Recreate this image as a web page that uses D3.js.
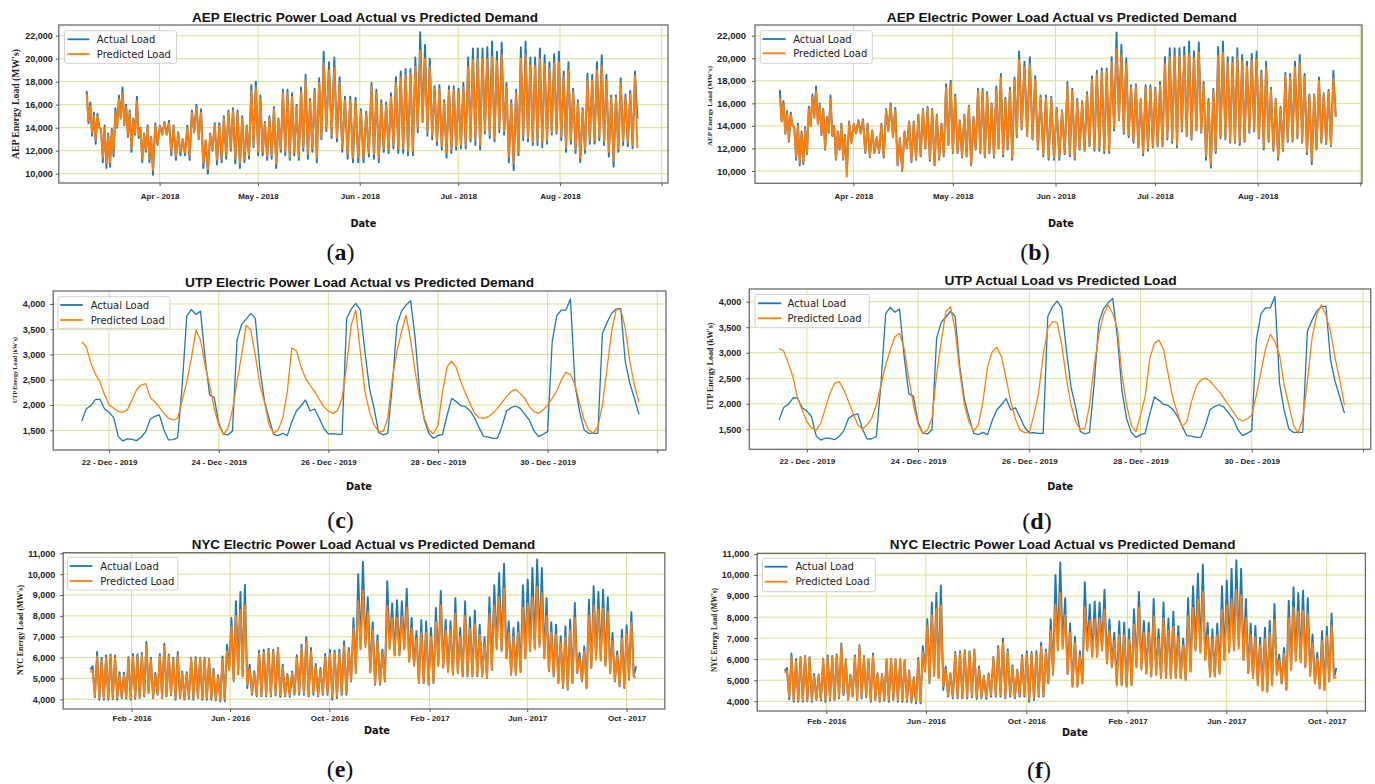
<html>
<head>
<meta charset="utf-8">
<script src="https://d3js.org/d3.v7.min.js"></script>
<style>
    body { margin: 0; background: #fff; }
    svg { display: block; }
    .grid line { stroke: #dcdd8c; stroke-width: 1px; }
    .frame { fill: none; stroke: #6b6b6b; stroke-width: 1.3px; }
    .series { fill: none; stroke-linejoin: round; }
    .axis path.domain { display: none; }
    .axis line { stroke: #555; }
    .axis text { font-family: "Liberation Sans", Arial, sans-serif; font-weight: bold; fill: #222; }
    .title { font-family: "Liberation Sans", Arial, sans-serif; font-weight: bold; font-size: 13.5px; fill: #111; }
    .xlab { font-family: "DejaVu Sans", sans-serif; font-weight: bold; font-size: 10.5px; fill: #111; }
    .ylab { font-family: "Liberation Serif", "Times New Roman", serif; font-weight: bold; fill: #222; }
    .sub { font-family: "Liberation Serif", "Times New Roman", serif; font-size: 24px; fill: #111; }
    .legend rect { fill: #fff; fill-opacity: 0.85; stroke: #d0d0d0; stroke-width: 1px; }
    .legend text { font-family: "DejaVu Sans", sans-serif; font-size: 10px; fill: #222; }
</style>
</head>
<body>
<svg width="1375" height="784"></svg>

<script>

    // ---------------- AEP (MW, thousands) : alternating peak / trough as read ----------------
    const aepActual = [
        17.2,14.4, 16.2,13.3, 15.3,12.6, 15.2,14.0, 13.9,11.0, 14.2,10.5, 13.5,10.6, 13.9,11.5, 15.7,14.0, 16.8,14.8,
        17.5,14.2, 16.0,13.2, 15.5,11.9, 14.8,13.4, 16.7,13.1, 14.0,11.0, 13.5,11.9, 14.2,11.0, 13.2,9.9, 14.4,12.5,
        14.2,13.4, 14.5,13.4, 14.6,11.6, 14.2,11.2, 13.6,11.6, 13.0,11.6, 14.2,11.2, 15.5,13.6, 16.0,13.0, 15.6,10.5,
        12.9,10.0, 13.5,12.0, 14.4,10.8, 14.4,11.0, 15.0,11.3, 15.5,12.0, 15.7,10.9, 15.5,10.5, 15.0,11.0, 14.2,11.3,
        17.7,12.3, 18.0,11.6, 16.8,11.6, 14.5,11.2, 15.0,11.3, 15.8,10.5, 14.8,11.9, 17.3,11.6, 17.3,11.2, 17.0,11.6,
        16.0,11.2, 17.5,12.0, 18.6,11.3, 16.5,11.9, 17.4,11.0, 18.3,13.0, 20.6,13.7, 19.7,13.1, 20.1,12.8, 18.4,11.9,
        16.7,11.3, 16.7,11.0, 16.6,11.0, 15.6,11.0, 15.4,11.5, 17.9,11.3, 17.3,11.0, 16.4,11.9, 16.2,11.8, 17.0,12.2,
        18.4,11.8, 18.9,11.8, 19.1,11.6, 19.1,11.6, 20.1,13.6, 22.3,14.5, 21.2,13.3, 20.0,13.0, 17.6,12.5, 17.7,12.1,
        16.4,11.4, 17.6,11.8, 17.6,12.1, 17.4,12.2, 17.9,12.2, 20.1,12.8, 20.9,12.5, 20.9,12.1, 20.9,13.5, 21.0,13.1,
        21.5,12.8, 20.6,13.6, 21.4,13.4, 17.9,11.0, 16.4,10.3, 17.3,11.6, 21.0,12.9, 21.5,12.8, 20.1,12.5, 20.1,12.5,
        20.9,12.3, 20.3,12.6, 19.7,13.4, 20.4,13.5, 20.6,12.9, 18.9,11.9, 19.7,12.6, 17.4,11.8, 16.4,11.0, 15.7,11.8,
        18.7,12.6, 18.6,12.6, 19.7,12.9, 20.3,12.5, 18.6,11.5, 16.8,10.6, 16.8,11.9, 18.3,12.5, 16.9,12.4, 17.2,12.2,
        18.9,14.8
    ];
    const aepPredA = [
        16.9,14.6, 15.9,13.6, 15.0,12.9, 15.0,14.1, 13.8,11.4, 14.0,10.9, 13.3,11.0, 13.7,11.8, 15.4,14.1, 16.5,14.8,
        17.0,14.3, 15.8,13.4, 15.3,12.2, 14.7,13.5, 16.3,13.3, 13.9,11.3, 13.4,12.1, 14.0,11.3, 13.1,10.3, 14.2,12.6,
        14.1,13.4, 14.4,13.4, 14.4,11.9, 14.1,11.5, 13.5,11.9, 13.0,11.8, 14.0,11.5, 15.3,13.6, 15.7,13.1, 15.3,10.9,
        12.9,10.4, 13.4,12.1, 14.2,11.2, 14.2,11.3, 14.8,11.6, 15.3,12.2, 15.5,11.3, 15.3,10.9, 14.8,11.3, 14.1,11.6,
        17.2,12.5, 17.5,11.9, 16.5,11.9, 14.4,11.5, 14.8,11.6, 15.6,10.9, 14.7,12.1, 17.0,11.9, 17.0,11.5, 16.7,11.9,
        15.8,11.5, 17.1,12.3, 18.1,11.7, 16.3,12.2, 17.1,11.4, 17.9,13.2, 19.6,13.9, 19.0,13.4, 19.2,13.1, 17.9,12.2,
        16.4,11.7, 16.4,11.4, 16.3,11.4, 15.4,11.4, 15.2,11.8, 17.5,11.7, 17.0,11.4, 16.1,12.2, 16.0,12.1, 16.7,12.5,
        17.9,12.2, 18.4,12.2, 18.6,12.0, 18.6,12.0, 19.3,13.9, 20.7,14.6, 20.0,13.6, 19.3,13.3, 17.3,12.8, 17.4,12.4,
        16.2,11.8, 17.3,12.1, 17.3,12.4, 17.1,12.5, 17.5,12.5, 19.3,13.1, 19.9,12.9, 20.0,12.5, 20.0,13.7, 20.0,13.4,
        20.2,13.1, 19.8,13.9, 20.3,13.7, 17.5,11.5, 16.1,10.9, 17.0,11.9, 20.0,13.2, 20.3,13.1, 19.4,12.8, 19.4,12.8,
        20.0,12.7, 19.5,12.9, 19.1,13.6, 19.6,13.7, 19.7,13.2, 18.4,12.3, 19.0,12.9, 17.1,12.1, 16.2,11.4, 15.5,12.1,
        18.2,12.9, 18.1,12.9, 19.0,13.2, 19.4,12.8, 18.1,11.9, 16.6,11.1, 16.6,12.2, 17.9,12.8, 16.7,12.7, 16.9,12.5,
        18.5,12.2
    ];
    const aepPredB = [
        16.5,14.4, 16.0,13.4, 15.1,12.7, 15.0,14.0, 13.8,11.2, 14.0,10.7, 13.3,10.8, 13.7,11.6, 15.5,14.0, 16.6,14.7,
        17.1,14.2, 15.9,13.3, 15.4,12.0, 14.7,13.4, 16.4,13.2, 13.9,11.1, 13.4,12.0, 14.1,11.1, 13.1,9.5, 14.3,12.5,
        14.2,13.3, 14.4,13.3, 14.5,11.7, 14.1,11.3, 13.5,11.7, 13.0,11.7, 14.1,11.3, 15.4,13.5, 15.8,13.0, 15.4,10.6,
        12.9,10.1, 13.4,12.0, 14.3,10.9, 14.3,11.1, 14.9,11.4, 15.4,12.1, 15.6,11.0, 15.4,10.6, 14.9,11.1, 14.1,11.4,
        17.4,12.4, 17.7,11.7, 16.6,11.7, 14.4,11.3, 14.9,11.4, 15.7,10.6, 14.7,12.0, 17.1,11.7, 17.1,11.3, 16.8,11.7,
        15.9,11.3, 17.2,12.1, 18.3,11.5, 16.4,12.0, 17.2,11.2, 18.0,13.1, 19.9,13.8, 19.2,13.2, 19.5,12.9, 18.1,12.0,
        16.5,11.5, 16.5,11.2, 16.4,11.2, 15.5,11.2, 15.3,11.6, 17.6,11.5, 17.1,11.2, 16.2,12.0, 16.1,11.9, 16.8,12.3,
        18.1,12.0, 18.6,12.0, 18.8,11.8, 18.8,11.8, 19.6,13.8, 20.8,14.5, 20.3,13.5, 19.5,13.2, 17.4,12.6, 17.5,12.2,
        16.3,11.6, 17.4,12.0, 17.4,12.2, 17.2,12.3, 17.6,12.3, 19.5,13.0, 20.1,12.7, 20.2,12.3, 20.2,13.6, 20.2,13.2,
        20.4,12.9, 20.0,13.7, 20.5,13.5, 17.6,11.3, 16.2,10.6, 17.1,11.8, 20.2,13.1, 20.5,12.9, 19.6,12.6, 19.6,12.6,
        20.2,12.5, 19.7,12.7, 19.3,13.5, 19.8,13.6, 19.9,13.0, 18.6,12.1, 19.2,12.7, 17.2,11.9, 16.3,11.2, 15.6,11.9,
        18.4,12.7, 18.3,12.7, 19.2,13.0, 19.6,12.6, 18.3,11.7, 16.7,10.9, 16.7,12.0, 18.0,12.6, 16.8,12.5, 17.0,12.3,
        18.2,14.8
    ];
    // dates read at a few recognisable points of the AEP series (index -> time)
    const aepAnchorIndex = [0, 37, 80, 112, 130, 150, 192, 241];
    const aepAnchorDate = ['2018-03-09T19:00', '2018-03-30T00:00', '2018-04-28T23:00', '2018-05-21T00:00',
                           '2018-06-04T14:00', '2018-06-19T10:00', '2018-07-20T02:00', '2018-08-24T14:00'];
    const aepTickDates = ['2018-04-01', '2018-05-01', '2018-06-01', '2018-07-01', '2018-08-01', '2018-09-01'];
    const aepTickLabels = ['Apr - 2018', 'May - 2018', 'Jun - 2018', 'Jul - 2018', 'Aug - 2018', ''];
    const aepYTicks = [10000, 12000, 14000, 16000, 18000, 20000, 22000];

    // ---------------- UTP (kW), every 2 hours from 21 Dec 2019 12:00 ----------------
    const utpStart = '2019-12-21T12:00';
    const utpStepHours = 2;
    const utpActual = [
        1680,1928,1988,2113,2113,1922,1856,1750,1375,1289,
        1329,1322,1296,1362,1474,1717,1777,1803,1507,1309,
        1315,1355,2396,3760,3892,3793,3859,2923,2199,2146,
        1638,1428,1408,1487,3286,3596,3701,3813,3714,2726,
        2080,1737,1421,1395,1441,1395,1671,1882,1981,2100,
        1882,1922,1737,1540,1428,1434,1421,1421,3714,3899,
        4011,3879,3055,2330,1935,1460,1408,1441,2396,3582,
        3859,3978,4064,3319,2251,1704,1441,1342,1395,1421,
        1803,2133,2067,1988,1968,1889,1750,1553,1375,1368,
        1342,1342,1572,1882,1948,1981,1935,1816,1704,1493,
        1375,1421,1474,3253,3767,3879,3879,4100,2396,1869,
        1507,1441,1441,1441,3418,3635,3813,3899,3912,2858,
        2429,2133,1816
    ];
    const utpPredC = [
        3253,3154,2825,2607,2462,2199,2001,1935,1876,1856,
        1909,2100,2297,2396,2423,2146,2067,1955,1836,1737,
        1704,1737,2100,2462,2923,3484,3286,2792,2396,1935,
        1605,1421,1540,1902,2462,2989,3582,3484,2989,2396,
        2067,1605,1441,1507,1737,2264,3134,3068,2759,2528,
        2396,2264,2113,1968,1882,1836,1889,2133,2792,3582,
        3879,3055,2264,1869,1605,1474,1474,1737,2528,3055,
        3451,3780,3286,2660,2133,1737,1507,1428,1605,2264,
        2759,2871,2739,2462,2231,2034,1836,1750,1737,1770,
        1836,1935,2054,2166,2264,2311,2231,2133,1968,1869,
        1836,1902,2001,2133,2278,2495,2647,2607,2396,2034,
        1704,1507,1441,1572,2001,2726,3451,3879,3899,3517,
        2858,2396,2054
    ];
    const utpPredD = [
        3080,3034,2792,2531,2107,1879,1650,1533,1480,1617,
        1911,2205,2401,2433,2270,2042,1813,1585,1506,1585,
        1715,1976,2368,2760,3053,3314,3380,3086,2499,1976,
        1598,1422,1487,1715,2564,3217,3804,3902,3445,2629,
        1976,1637,1467,1585,2042,2727,3021,3106,2923,2499,
        2042,1702,1487,1435,1441,1781,2205,2956,3478,3608,
        3595,3151,2499,1976,1650,1500,1520,1976,2760,3347,
        3739,3935,3772,3478,2564,1976,1585,1454,1781,2140,
        2890,3184,3249,3053,2564,2107,1813,1552,1650,2042,
        2335,2466,2499,2446,2335,2238,2107,1976,1846,1715,
        1663,1702,1781,2172,2629,3086,3360,3217,2956,2368,
        1976,1585,1422,1715,2433,3282,3739,3935,3739,3412,
        2890,2466,1976
    ];
    const utpTickDates = ['2019-12-22', '2019-12-24', '2019-12-26', '2019-12-28', '2019-12-30', '2020-01-01'];
    const utpTickLabels = ['22 - Dec - 2019', '24 - Dec - 2019', '26 - Dec - 2019', '28 - Dec - 2019', '30 - Dec - 2019', ''];
    const utpYTicks = [1500, 2000, 2500, 3000, 3500, 4000];

    // ---------------- NYC (MW, thousands) : alternating peak / trough as read ----------------
    const nycActual = [
        5.42,5.58,4.1,6.27,3.98,6.0,3.98,6.1,3.98,6.15,
        4.0,6.1,3.98,5.3,4.06,5.28,4.03,6.02,3.98,6.18,
        4.03,6.15,4.06,6.22,4.14,6.75,4.3,6.0,4.06,5.26,
        4.22,6.18,4.06,6.67,4.14,6.15,4.19,6.0,3.98,6.27,
        4.06,5.34,3.98,5.3,4.03,6.0,3.98,6.02,4.06,6.0,
        3.98,6.0,3.98,5.95,3.98,5.46,3.94,5.15,3.9,6.06,
        3.9,6.62,5.5,7.9,4.86,8.7,5.2,9.15,5.1,9.5,
        4.54,5.66,4.22,5.34,4.14,6.34,4.14,6.38,4.14,6.43,
        4.14,6.38,4.19,6.46,4.11,5.66,4.14,5.22,4.11,5.34,
        4.22,6.11,4.22,6.62,4.22,6.98,4.14,6.46,4.22,5.7,
        4.14,5.5,4.22,6.18,4.22,6.38,3.98,6.34,4.06,6.38,
        4.22,6.78,4.22,6.46,4.86,7.9,5.26,10.0,6.46,10.6,
        6.6,8.9,5.3,7.7,4.7,7.07,4.7,6.38,4.86,9.66,
        6.46,8.6,6.14,8.75,6.14,8.7,6.46,9.3,5.82,7.9,
        5.66,7.26,4.78,7.8,4.78,7.74,4.7,7.42,4.78,8.38,
        5.66,9.2,5.58,7.82,5.34,7.74,5.18,8.86,5.26,7.42,
        5.1,8.7,5.1,7.94,5.1,8.26,5.1,7.58,5.1,6.98,
        5.02,8.9,5.42,9.47,6.46,10.06,6.38,10.5,5.98,7.74,
        5.18,7.42,5.18,7.7,5.34,9.47,5.98,9.74,6.38,10.3,
        6.46,10.7,6.62,10.3,5.98,8.86,5.34,7.7,5.1,7.58,
        4.78,7.02,4.54,7.5,4.46,7.82,4.78,8.62,5.26,6.22,
        4.86,6.54,4.54,8.78,5.5,9.42,5.98,9.15,5.9,9.26,
        5.66,8.9,5.26,7.18,4.86,6.3,4.62,7.34,4.54,7.55,
        4.94,8.18,5.1,5.58
    ];
    const nycPredE = [
        5.3,5.4,4.15,6.05,4.05,5.85,4.05,6.0,4.05,6.05,
        4.05,6.0,4.05,5.15,4.1,5.15,4.1,5.95,4.05,6.05,
        4.1,6.05,4.1,6.1,4.2,6.6,4.35,5.9,4.1,5.15,
        4.25,6.05,4.1,6.55,4.2,6.05,4.25,5.9,4.05,6.1,
        4.1,5.25,4.05,5.2,4.1,5.95,4.05,5.95,4.1,5.95,
        4.05,5.95,4.05,5.9,4.05,5.35,4.0,5.05,4.0,5.9,
        4.0,6.3,5.4,7.5,4.9,8.0,5.2,8.3,5.1,8.5,
        4.7,5.45,4.3,5.25,4.2,6.2,4.2,6.25,4.2,6.3,
        4.2,6.3,4.25,6.4,4.2,5.5,4.2,5.15,4.2,5.25,
        4.3,6.0,4.3,6.45,4.3,6.75,4.2,6.3,4.3,5.55,
        4.2,5.4,4.3,6.05,4.3,6.2,4.1,6.2,4.15,6.2,
        4.3,6.55,4.3,6.3,4.9,7.4,5.3,8.7,6.4,9.2,
        6.5,8.2,5.3,7.3,4.75,6.8,4.75,6.2,4.9,8.5,
        6.4,7.9,6.1,7.9,6.1,8.0,6.4,8.4,5.8,7.4,
        5.6,6.9,4.8,7.2,4.8,7.2,4.75,7.0,4.8,7.7,
        5.6,8.5,5.5,7.3,5.3,7.3,5.2,8.1,5.25,7.0,
        5.15,8.0,5.15,7.4,5.15,7.6,5.15,7.1,5.15,6.7,
        5.05,8.1,5.4,8.5,6.4,8.9,6.3,9.3,5.95,7.2,
        5.2,7.0,5.2,7.2,5.3,8.4,5.95,8.6,6.3,8.9,
        6.4,9.4,6.5,9.1,5.95,8.0,5.35,7.2,5.15,7.1,
        4.8,6.7,4.6,7.0,4.5,7.3,4.8,7.9,5.3,6.0,
        4.9,6.3,4.6,8.0,5.5,8.5,5.9,8.3,5.85,8.35,
        5.6,8.2,5.25,6.8,4.9,6.1,4.65,6.9,4.6,7.15,
        5.0,7.65,5.1,5.05
    ];
    const nycPredF = [
        5.35,5.45,4.2,6.1,4.05,5.9,4.05,6.05,4.05,6.1,
        4.05,6.05,4.05,5.2,4.1,5.2,4.1,6.0,4.05,6.1,
        4.1,6.1,4.1,6.15,4.2,6.65,4.35,5.95,4.1,5.2,
        4.25,6.1,4.1,6.6,4.2,6.1,4.25,5.95,4.05,6.15,
        4.1,5.3,4.05,5.25,4.1,6.0,4.05,6.0,4.1,6.0,
        4.05,6.0,4.05,5.95,4.05,5.4,4.0,5.1,4.0,5.95,
        4.0,6.35,5.4,7.6,4.9,8.1,5.2,8.4,5.1,8.55,
        4.7,5.5,4.3,5.3,4.2,6.25,4.2,6.3,4.2,6.35,
        4.2,6.35,4.25,6.4,4.2,5.55,4.2,5.2,4.2,5.3,
        4.3,6.05,4.3,6.5,4.3,6.8,4.2,6.35,4.3,5.6,
        4.2,5.45,4.3,6.1,4.3,6.25,4.1,6.25,4.15,6.25,
        4.3,6.6,4.3,6.35,4.9,7.35,5.3,8.6,6.4,9.15,
        6.5,8.1,5.3,7.25,4.7,6.75,4.7,6.15,4.85,8.45,
        6.4,7.85,6.1,7.9,6.1,7.95,6.4,8.35,5.8,7.35,
        5.6,6.85,4.75,7.15,4.75,7.15,4.7,6.95,4.75,7.65,
        5.6,8.45,5.5,7.25,5.3,7.25,5.2,8.05,5.25,6.95,
        5.1,7.95,5.1,7.35,5.1,7.55,5.1,7.05,5.1,6.65,
        5.0,8.05,5.4,8.45,6.4,8.85,6.3,9.2,5.95,7.15,
        5.2,6.95,5.2,7.15,5.3,8.35,5.95,8.55,6.3,8.85,
        6.4,9.3,6.5,9.05,5.95,7.95,5.35,7.15,5.1,7.05,
        4.75,6.65,4.5,6.95,4.45,7.25,4.75,7.85,5.3,5.95,
        4.85,6.25,4.55,7.95,5.5,8.45,5.9,8.25,5.85,8.3,
        5.6,8.15,5.2,6.75,4.85,6.05,4.6,6.85,4.55,7.1,
        4.95,7.6,5.1,5.15
    ];
    const nycAnchorIndex = [0, 69, 119, 177, 191, 233];
    const nycAnchorDate = ['2015-12-12T10:00', '2016-06-19T05:00', '2016-11-11T05:00',
                           '2017-05-03T12:00', '2017-06-13T05:00', '2017-10-12T17:00'];
    const nycTickDates = ['2016-02-01', '2016-06-01', '2016-10-01', '2017-02-01', '2017-06-01', '2017-10-01'];
    const nycTickLabels = ['Feb - 2016', 'Jun - 2016', 'Oct - 2016', 'Feb - 2017', 'Jun - 2017', 'Oct - 2017'];
    const nycYTicks = [4000, 5000, 6000, 7000, 8000, 9000, 10000, 11000];

    const legendLabels = ['Actual Load', 'Predicted Load'];

    // ------------------------------------------------------------------------------------------

    const blue = '#1f77b4', orange = '#ff7f0e';
    const parseTime = d3.timeParse('%Y-%m-%dT%H:%M');
    const parseDay = d3.timeParse('%Y-%m-%d');

    function anchorTime(idx, dates) {
        let s = d3.scaleLinear().domain(idx).range(dates.map(d => +parseTime(d)));
        return i => new Date(s(i));
    }
    const aepTime = anchorTime(aepAnchorIndex, aepAnchorDate);
    const nycTime = anchorTime(nycAnchorIndex, nycAnchorDate);
    const utpTime = i => d3.timeHour.offset(parseTime(utpStart), i * utpStepHours);

    let svg = d3.select('svg');

    const panels = [
        { id: 'a', left: 58.8, right: 668, top: 25, bottom: 183,
          xDomain: ['2018-03-01T07:00', '2018-09-02T22:00'], yDomain: [9190, 22930],
          xTicks: aepTickDates, xLabels: aepTickLabels, yTicks: aepYTicks,
          time: aepTime, unit: 1000, lw: 1.9, actual: aepActual, pred: aepPredA,
          title: 'AEP Electric Power Load Actual vs Predicted Demand', titleX: 365, titleY: 21.5, titleW: 346,
          yLabel: "AEP Energy Load (MW's)", yLabelX: 18.5, yLabelY: 104, yLabelW: 110, yLabelSize: 9.5,
          dateX: 363.4, dateY: 226.5, sub: 'a', subX: 340.5, subY: 260,
          leg: { x: 64.5, y: 30.7, w: 112, h: 32.6, rows: [39.3, 54], lx: [67.6, 89.4], tx: 96.8 },
          xPad: 7.5, yPad: 3, xFont: 8, yFont: 9 },
        { id: 'b', left: 755, right: 1362, top: 25, bottom: 183.3,
          xDomain: ['2018-03-02T07:00', '2018-09-01T12:00'], yDomain: [8910, 22950],
          xTicks: aepTickDates, xLabels: aepTickLabels, yTicks: aepYTicks,
          time: aepTime, unit: 1000, lw: 1.9, actual: aepActual, pred: aepPredB,
          title: 'AEP Electric Power Load Actual vs Predicted Demand', titleX: 1061.8, titleY: 21.5, titleW: 350,
          yLabel: "AEP Energy Load (MW's)", yLabelX: 712, yLabelY: 106, yLabelW: 80, yLabelSize: 7,
          dateX: 1061, dateY: 227, sub: 'b', subX: 1035, subY: 260,
          leg: { x: 760.3, y: 30.7, w: 112, h: 32.6, rows: [39, 53.3], lx: [762.5, 785.7], tx: 793.2 },
          xPad: 7.5, yPad: 6, xFont: 8, yFont: 9.5 },
        { id: 'c', left: 53.2, right: 666, top: 291, bottom: 450,
          xDomain: ['2019-12-20T23:30', '2020-01-01T03:50'], yDomain: [1110, 4257],
          xTicks: utpTickDates, xLabels: utpTickLabels, yTicks: utpYTicks,
          time: utpTime, unit: 1, lw: 1.3, actual: utpActual, pred: utpPredC,
          title: 'UTP Electric Power Load Actual vs Predicted Demand', titleX: 359.6, titleY: 286.5, titleW: 349,
          yLabel: "UTP Energy Load (kW's)", yLabelX: 17, yLabelY: 370, yLabelW: 66, yLabelSize: 6,
          dateX: 359, dateY: 489.5, sub: 'c', subX: 340.5, subY: 528,
          leg: { x: 58, y: 296.7, w: 112, h: 31.6, rows: [305, 320], lx: [60.2, 82.8], tx: 90.7 },
          xPad: 6.5, yPad: 5, xFont: 8, yFont: 9 },
        { id: 'd', left: 749.3, right: 1370.7, top: 289, bottom: 449.3,
          xDomain: ['2019-12-20T23:10', '2020-01-01T03:20'], yDomain: [1108, 4249],
          xTicks: utpTickDates, xLabels: utpTickLabels, yTicks: utpYTicks,
          time: utpTime, unit: 1, lw: 1.3, actual: utpActual, pred: utpPredD,
          title: 'UTP Actual Load vs Predicted Load', titleX: 1060.6, titleY: 285, titleW: 232,
          yLabel: "UTP Energy Load (kW's)", yLabelX: 712.5, yLabelY: 366, yLabelW: 87, yLabelSize: 8,
          dateX: 1060.2, dateY: 489.5, sub: 'd', subX: 1037, subY: 529,
          leg: { x: 755, y: 294.3, w: 114.2, h: 33.4, rows: [303.3, 318.3], lx: [758, 781.3], tx: 787.5 },
          xPad: 6.5, yPad: 5, xFont: 8, yFont: 9 },
        { id: 'e', left: 63.2, right: 664.8, top: 552.7, bottom: 709,
          xDomain: ['2015-11-09T00:00', '2017-11-17T00:00'], yDomain: [3535, 11029],
          xTicks: nycTickDates, xLabels: nycTickLabels, yTicks: nycYTicks,
          time: nycTime, unit: 1000, lw: 1.9, actual: nycActual, pred: nycPredE,
          title: 'NYC Electric Power Load Actual vs Predicted Demand', titleX: 363.5, titleY: 549, titleW: 343.5,
          yLabel: "NYC Energy Load (MW's)", yLabelX: 22.5, yLabelY: 630, yLabelW: 90, yLabelSize: 8,
          dateX: 377, dateY: 734, sub: 'e', subX: 340, subY: 777,
          leg: { x: 67.6, y: 557.3, w: 110.3, h: 32.7, rows: [566, 581], lx: [69.7, 92.4], tx: 100.3 },
          xPad: 3.5, yPad: 5, xFont: 8, yFont: 9 },
        { id: 'f', left: 757.2, right: 1365.4, top: 553.3, bottom: 711,
          xDomain: ['2015-11-09T00:00', '2017-11-17T00:00'], yDomain: [3538, 11033],
          xTicks: nycTickDates, xLabels: nycTickLabels, yTicks: nycYTicks,
          time: nycTime, unit: 1000, lw: 1.9, actual: nycActual, pred: nycPredF,
          title: 'NYC Electric Power Load Actual vs Predicted Demand', titleX: 1062.7, titleY: 549, titleW: 345.7,
          yLabel: "NYC Energy Load (MW's)", yLabelX: 716.5, yLabelY: 630, yLabelW: 84, yLabelSize: 7.5,
          dateX: 1075, dateY: 735.5, sub: 'f', subX: 1039, subY: 778,
          leg: { x: 762.5, y: 558.3, w: 112.8, h: 33.4, rows: [566.7, 581.7], lx: [764.7, 787.5], tx: 795.4 },
          xPad: 4, yPad: 5, xFont: 8, yFont: 9 }
    ];

    panels.forEach(drawPanel);

    function drawPanel(p) {
        let g = svg.append('g').attr('class', 'panel-' + p.id);

        let x = d3.scaleTime().domain(p.xDomain.map(parseTime)).range([p.left, p.right]);
        let y = d3.scaleLinear().domain(p.yDomain).range([p.bottom, p.top]);
        let xt = p.xTicks.map(parseDay);

        // grid
        g.append('g').attr('class', 'grid')
          .selectAll('line').data(p.yTicks).join('line')
            .attr('x1', p.left).attr('x2', p.right)
            .attr('y1', d => y(d)).attr('y2', d => y(d));
        g.append('g').attr('class', 'grid')
          .selectAll('line').data(xt).join('line')
            .attr('x1', d => x(d)).attr('x2', d => x(d))
            .attr('y1', p.top).attr('y2', p.bottom);

        g.append('clipPath').attr('id', 'clip-' + p.id)
          .append('rect')
            .attr('x', p.left).attr('y', p.top)
            .attr('width', p.right - p.left).attr('height', p.bottom - p.top);

        let line = d3.line()
            .x((d, i) => x(p.time(i)))
            .y(d => y(d * p.unit));

        [[p.actual, blue], [p.pred, orange]].forEach(s => {
            g.append('path')
                .datum(s[0])
                .attr('class', 'series')
                .attr('stroke', s[1])
                .attr('stroke-width', p.lw)
                .attr('clip-path', 'url(#clip-' + p.id + ')')
                .attr('d', line);
        });

        g.append('rect').attr('class', 'frame')
            .attr('x', p.left).attr('y', p.top)
            .attr('width', p.right - p.left).attr('height', p.bottom - p.top);

        // axes
        g.append('g').attr('class', 'axis')
            .attr('transform', 'translate(0,' + p.bottom + ')')
            .call(d3.axisBottom(x).tickValues(xt).tickFormat((d, i) => p.xLabels[i])
                .tickSize(3).tickPadding(p.xPad))
            .call(a => a.selectAll('text').style('font-size', p.xFont + 'px'));

        g.append('g').attr('class', 'axis')
            .attr('transform', 'translate(' + p.left + ',0)')
            .call(d3.axisLeft(y).tickValues(p.yTicks).tickFormat(d3.format(','))
                .tickSize(3).tickPadding(p.yPad))
            .call(a => a.selectAll('text').style('font-size', p.yFont + 'px'));

        // texts
        g.append('text').attr('class', 'title')
            .attr('x', p.titleX).attr('y', p.titleY)
            .attr('text-anchor', 'middle')
            .attr('textLength', p.titleW).attr('lengthAdjust', 'spacingAndGlyphs')
            .text(p.title);

        g.append('text').attr('class', 'xlab')
            .attr('x', p.dateX).attr('y', p.dateY)
            .attr('text-anchor', 'middle')
            .attr('textLength', 26).attr('lengthAdjust', 'spacingAndGlyphs')
            .text('Date');

        g.append('text').attr('class', 'ylab')
            .attr('transform', 'translate(' + p.yLabelX + ',' + p.yLabelY + ') rotate(-90)')
            .attr('text-anchor', 'middle')
            .style('font-size', p.yLabelSize + 'px')
            .attr('textLength', p.yLabelW).attr('lengthAdjust', 'spacingAndGlyphs')
            .text(p.yLabel);

        let sub = g.append('text').attr('class', 'sub')
            .attr('x', p.subX).attr('y', p.subY)
            .attr('text-anchor', 'middle');
        sub.append('tspan').text('(');
        sub.append('tspan').attr('font-weight', 'bold').text(p.sub);
        sub.append('tspan').text(')');

        // legend
        let L = p.leg;
        let lg = g.append('g').attr('class', 'legend');
        lg.append('rect')
            .attr('x', L.x).attr('y', L.y).attr('width', L.w).attr('height', L.h)
            .attr('rx', 2).attr('ry', 2);
        legendLabels.forEach((lab, i) => {
            lg.append('line')
                .attr('x1', L.lx[0]).attr('x2', L.lx[1])
                .attr('y1', L.rows[i]).attr('y2', L.rows[i])
                .attr('stroke', i === 0 ? blue : orange)
                .attr('stroke-width', 1.8);
            lg.append('text')
                .attr('x', L.tx).attr('y', L.rows[i])
                .attr('dy', '0.35em')
                .text(lab);
        });
    }

</script>
</body>
</html>
